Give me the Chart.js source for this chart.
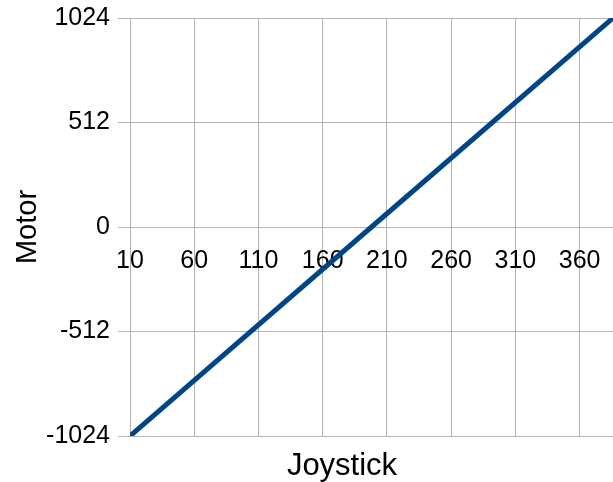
<!DOCTYPE html>
<html>
<head>
<meta charset="utf-8">
<script src="https://cdn.jsdelivr.net/npm/chart.js@4"></script>
<style>
  html, body { margin: 0; padding: 0; background: #fff; }
  #wrap { width: 613px; height: 482px; }
</style>
</head>
<body>
<div id="wrap"><canvas id="grafico"></canvas></div>
<script>
// datos
const joystick = [10, 198, 386];
const motor = [-1024, 0, 1024];
const xTicks = [10, 60, 110, 160, 210, 260, 310, 360];
const yTicks = [-1024, -512, 0, 512, 1024];

const gris = '#b3b3b3';
const fuente = 'Liberation Sans, Arial, sans-serif';
// el titulo "Joystick" no esta centrado en el area del grafico (imagen recortada)
const centroTituloX = 342;

const puntos = joystick.map((j, i) => ({ x: j, y: motor[i] }));

// mueve el titulo del eje x a su posicion
const moverTitulo = {
    id: 'moverTitulo',
    afterLayout(chart) {
        const s = chart.scales.x2;
        s.left = centroTituloX - 100;
        s.right = centroTituloX + 100;
        s.width = 200;
    }
};

const ctx = document.getElementById('grafico').getContext('2d');
const chart = new Chart(ctx, {
    type: 'line',
    data: {
        datasets: [{
            label: 'Motor',
            data: puntos,
            borderColor: '#004586',
            borderWidth: 5,
            pointRadius: 0,
            fill: false,
            tension: 0
        }]
    },
    options: {
        responsive: true,
        maintainAspectRatio: false,
        animation: false,
        layout: { padding: 0 },
        plugins: { legend: { display: false }, tooltip: { enabled: false } },
        scales: {
            x: {
                type: 'linear',
                position: { y: 0 },
                min: 10,
                max: 386,
                afterBuildTicks: axis => { axis.ticks = xTicks.map(v => ({ value: v })); },
                afterFit: axis => { axis.paddingLeft = 0; axis.paddingRight = 0; },
                grid: { color: gris, drawTicks: false },
                border: { color: gris },
                ticks: {
                    color: '#000', font: { family: fuente, size: 25 }, padding: 19, maxRotation: 0, autoSkip: false,
                    callback: v => String(v)
                }
            },
            x2: {
                type: 'linear',
                position: 'bottom',
                grid: { display: false, drawTicks: false },
                border: { display: false },
                ticks: { display: false },
                title: { display: true, text: 'Joystick', color: '#000', font: { family: fuente, size: 31, lineHeight: 1 }, padding: { top: 15, bottom: 0 } }
            },
            y: {
                type: 'linear',
                min: -1024,
                max: 1024,
                afterBuildTicks: axis => { axis.ticks = yTicks.map(v => ({ value: v })); },
                afterFit: axis => { axis.width = 130; axis.paddingTop = 18; axis.paddingBottom = 10; },
                grid: { color: gris, tickLength: 12 },
                border: { color: gris },
                ticks: { color: '#000', font: { family: fuente, size: 25 }, padding: 8, callback: v => String(v) },
                title: { display: true, text: 'Motor', color: '#000', font: { family: fuente, size: 29, lineHeight: 1 }, padding: { top: 13, bottom: 0 } }
            }
        }
    },
    plugins: [moverTitulo]
});
</script>
</body>
</html>
